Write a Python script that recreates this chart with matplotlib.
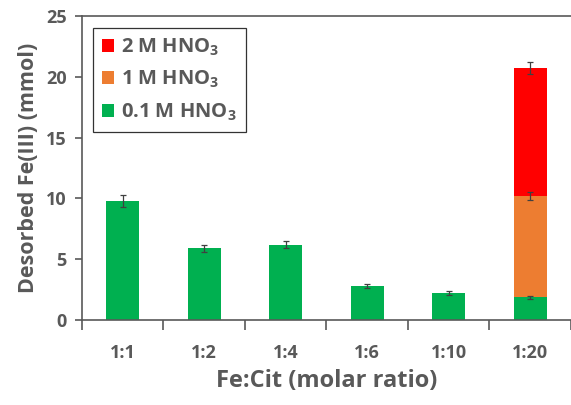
import numpy as np
import matplotlib.pyplot as plt
import matplotlib.ticker as mticker

# ── Data ─────────────────────────────────────────────────────────────────────
ratios = ["1:1", "1:2", "1:4", "1:6", "1:10", "1:20"]
hno3_01 = [9.75, 5.9, 6.2, 2.8, 2.2, 1.85]
hno3_01_err = [0.5, 0.3, 0.3, 0.15, 0.15, 0.12]
hno3_1 = [0, 0, 0, 0, 0, 8.35]          # only 1:20, stacked on 0.1 M
hno3_1_err = 0.35
hno3_2 = [0, 0, 0, 0, 0, 10.5]          # only 1:20, stacked on 1 M
hno3_2_err = 0.5

GREY = "#595959"
C_GREEN, C_ORANGE, C_RED = "#00B050", "#ED7D31", "#FF0000"

plt.rcParams.update({
    "font.family": "Open Sans",
    "font.weight": "bold",
    "axes.labelweight": "bold",
    "mathtext.fontset": "custom",
    "mathtext.rm": "Open Sans:bold",
    "mathtext.bf": "Open Sans:bold",
    "text.color": GREY,
})

fig = plt.figure(figsize=(5.71, 4.05), dpi=100)
ax = fig.add_axes([0.1436, 0.21, 0.8564, 0.7505])

x = np.arange(len(ratios))
w = 0.4
g = np.array(hno3_01)
o = np.array(hno3_1)
r = np.array(hno3_2)

ax.bar(x, g, w, color=C_GREEN, label="0.1 M HNO$_3$", zorder=2)
ax.bar(x[-1], o[-1], w, bottom=g[-1], color=C_ORANGE, label="1 M HNO$_3$", zorder=2)
ax.bar(x[-1], r[-1], w, bottom=g[-1] + o[-1], color=C_RED, label="2 M HNO$_3$", zorder=2)

ekw = dict(fmt="none", ecolor="#404040", elinewidth=0.9, capsize=2, capthick=0.9, zorder=3)
ax.errorbar(x, g, yerr=hno3_01_err, **ekw)
ax.errorbar(x[-1], g[-1] + o[-1], yerr=hno3_1_err, **ekw)
ax.errorbar(x[-1], g[-1] + o[-1] + r[-1], yerr=hno3_2_err, **ekw)

ax.set_ylim(0, 25)
ax.set_xlim(-0.5, 5.356)
ax.yaxis.set_major_locator(mticker.MultipleLocator(5))
ax.set_xticks(x)
ax.set_xticklabels(ratios)
ax.set_xticks(np.arange(-0.5, 6, 1), minor=True)
ax.tick_params(axis="x", which="major", length=0, pad=17, labelsize=13, labelcolor=GREY)
ax.tick_params(axis="x", which="minor", length=7, width=1.2, color=GREY, direction="out")
ax.tick_params(axis="y", length=5, width=1.2, color=GREY, labelsize=13, labelcolor=GREY, pad=6)

for s in ax.spines.values():
    s.set_color(GREY)
    s.set_linewidth(1.2)
ax.spines["right"].set_visible(False)

ax.set_ylabel("Desorbed Fe(III) (mmol)", fontsize=15.5, color=GREY, labelpad=5)
ax.set_xlabel("Fe:Cit (molar ratio)", fontsize=17, color=GREY, labelpad=5)

handles, labels = ax.get_legend_handles_labels()
leg = ax.legend(handles[::-1], labels[::-1], loc="upper left",
                bbox_to_anchor=(0.022, 0.962), borderaxespad=0, fontsize=14.5,
                frameon=True, fancybox=False, edgecolor="black", handlelength=0.6,
                handleheight=0.6, handletextpad=0.35, labelspacing=0.55,
                borderpad=0.45, labelcolor=GREY)
leg.get_frame().set_linewidth(0.9)

fig.savefig("out.png", dpi=100)
